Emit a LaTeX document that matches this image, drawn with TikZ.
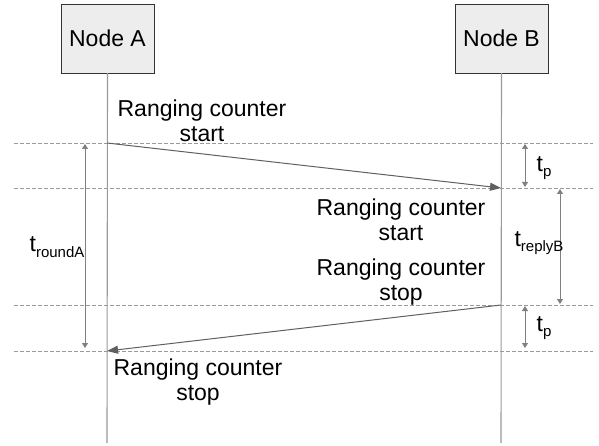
\documentclass[tikz,border=0pt]{standalone}
\usepackage{fontspec}
\setmainfont{Liberation Sans}
\usetikzlibrary{arrows.meta}
\definecolor{lifegray}{HTML}{9A9A9A}
\definecolor{msggray}{HTML}{606060}
\definecolor{spangray}{HTML}{808080}
\tikzset{
        box/.style={draw=black!80,fill=black!7,minimum width=93pt,minimum height=69pt,inner sep=0pt,font=\fontsize{23}{25}\selectfont},
        note/.style={align=center,inner sep=0pt,font=\fontsize{23}{25}\selectfont},
        tlabel/.style={inner sep=0pt,font=\fontsize{23}{25}\selectfont},
        grid/.style={lifegray,dash pattern=on 4pt off 2pt,line width=0.8pt},
        life/.style={lifegray,line width=1.1pt},
        msg/.style={msggray,line width=1pt,-{Triangle[length=11pt,width=8pt]}},
        span/.style={spangray,line width=1pt,{Triangle[length=5pt,width=6pt]}-{Triangle[length=5pt,width=6pt]}}
    }
\newcommand{\tsub}[1]{t\raisebox{-0.45ex}{\fontsize{15}{15}\selectfont #1}}

\begin{document}
\begin{tikzpicture}[x=1pt,y=-1pt]
\useasboundingbox (0,0) rectangle (599,446);

\draw (107.5,38.5) node(NODEA)[box]{Node A};
\draw (501.5,38.5) node(NODEB)[box]{Node B};

% time levels
\foreach \y/\n in {143/1,188/2,305/3,351/4}{
  \coordinate (L\n) at (14,\y);
  \coordinate (R\n) at (593,\y);
  \draw[grid] (L\n) -- (R\n);
}

\coordinate (AEND) at (107,443);
\coordinate (BEND) at (501,443);
\draw[life] (NODEA.south) -- (AEND);
\draw[life] (NODEB.south) -- (BEND);

\coordinate (ASTART) at (107,143);
\coordinate (BRX) at (501,188);
\coordinate (BTX) at (501,305);
\coordinate (ARX) at (107,351);
\draw[msg] (ASTART) -- (BRX);
\draw[msg] (BTX) -- (ARX);

\coordinate (TPA) at (525,144);
\coordinate (TPB) at (525,187);
\coordinate (TPC) at (525,306);
\coordinate (TPD) at (525,348);
\coordinate (RPA) at (560,189);
\coordinate (RPB) at (560,304);
\coordinate (RDA) at (85,144);
\coordinate (RDB) at (85,348);
\draw[span] (TPA) -- (TPB);
\draw[span] (TPC) -- (TPD);
\draw[span] (RPA) -- (RPB);
\draw[span] (RDA) -- (RDB);

\draw (544,168) node(TP1)[tlabel]{\tsub{p}};
\draw (544,328) node(TP2)[tlabel]{\tsub{p}};
\draw (539,243) node(TREPLY)[tlabel]{\tsub{replyB}};
\draw (57,247) node(TROUND)[tlabel]{\tsub{roundA}};

\draw (202,121) node(STARTA)[note]{Ranging counter\\start};
\draw (401,220) node(STARTB)[note]{Ranging counter\\start};
\draw (401,282) node(STOPB)[note]{Ranging counter\\stop};
\draw (198,382) node(STOPA)[note]{Ranging counter\\stop};

\end{tikzpicture}
\end{document}
